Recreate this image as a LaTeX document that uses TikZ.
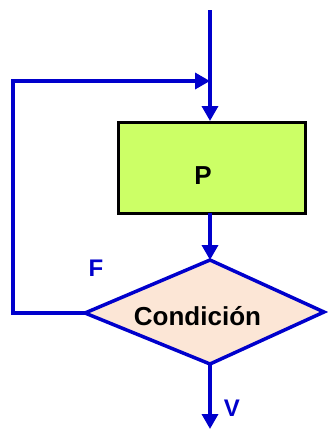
\documentclass[tikz,border=0pt]{standalone}
\usepackage{fontspec}
\setmainfont{Liberation Sans}
\usetikzlibrary{arrows.meta}
\definecolor{flowblue}{HTML}{0000CC}
\definecolor{boxgreen}{HTML}{CCFF66}
\definecolor{condpeach}{HTML}{FCE6D6}
\tikzset{
  flow/.style={draw=flowblue, line width=3.5pt},
  flowarrow/.style={flow, -{Triangle[length=15pt,width=16pt]}},
  procbox/.style={draw=black, line width=3pt, fill=boxgreen},
  bigtext/.style={font=\fontsize{26}{30}\selectfont\bfseries, inner sep=0pt},
  lbl/.style={font=\fontsize{24}{28}\selectfont\bfseries, text=flowblue, inner sep=0pt},
}
\begin{document}
\begin{tikzpicture}[x=1pt, y=-1pt]
\useasboundingbox (0,0) rectangle (328,429);
% coordinates
\coordinate (start) at (210,10);
\coordinate (join) at (210,81);
\coordinate (corner) at (13,81);
\coordinate (boxin) at (210,121);
\coordinate (boxout) at (210,213);
\coordinate (dtop) at (210,260);
\coordinate (dleft) at (85,313);
\coordinate (dright) at (324,312);
\coordinate (dbot) at (210,364);
\coordinate (endpt) at (210,429);
% process box
\path[procbox] (118,122) rectangle (305,213);
\node[bigtext] (p) at (203,176) {P};
% diamond
\path[flow, fill=condpeach, line join=miter] (dtop) -- (dright) -- (dbot) -- (dleft) -- cycle;
\node[bigtext] (cond) at (197.5,316.5) {Condición};
% connectors
\draw[flow] (start) -- (join);
\draw[flowarrow] (join) -- (boxin);
\draw[flowarrow] (boxout) -- (dtop);
\draw[flowarrow] (dleft) -- (dleft -| corner) -- (corner) -- (join);
\draw[flowarrow] (dbot) -- (endpt);
% labels
\node[lbl] (f) at (96,268) {F};
\node[lbl] (v) at (232,408) {V};
\end{tikzpicture}
\end{document}
